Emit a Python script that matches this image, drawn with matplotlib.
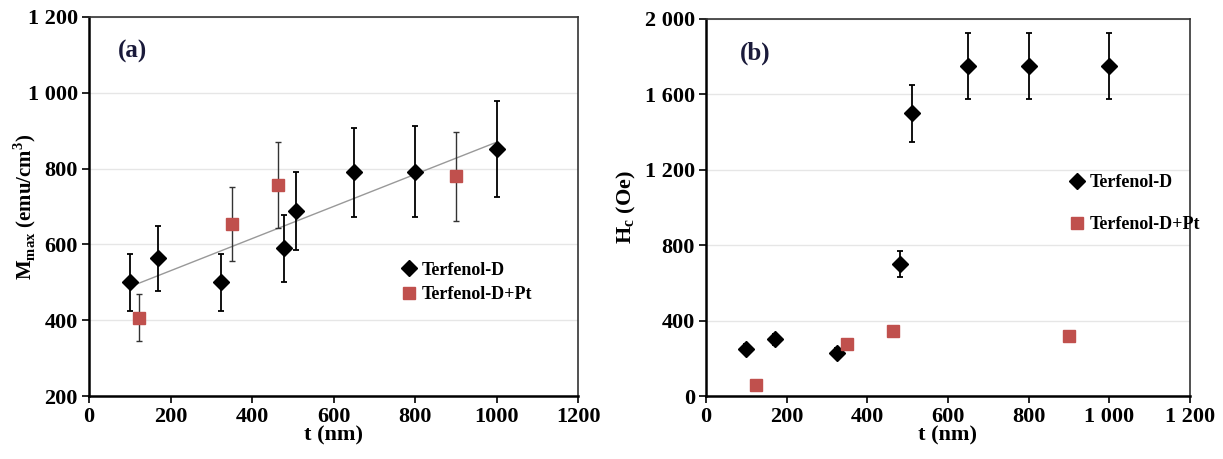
import numpy as np
import matplotlib
matplotlib.use('Agg')
import matplotlib.pyplot as plt
from matplotlib.ticker import FuncFormatter
from matplotlib.lines import Line2D

plt.rcParams['font.family'] = ['Liberation Serif', 'DejaVu Serif']
plt.rcParams['font.weight'] = 'bold'
plt.rcParams['axes.labelweight'] = 'bold'
plt.rcParams['mathtext.fontset'] = 'custom'
plt.rcParams['mathtext.rm'] = 'Liberation Serif:bold'
plt.rcParams['mathtext.bf'] = 'Liberation Serif:bold'

RED = '#C0504D'

# (a) Mmax vs thickness
t_d_a = [100, 170, 325, 478, 507, 650, 800, 1000]
m_d = [500, 563, 500, 590, 687, 790, 792, 852]
m_d_err = [75, 85, 75, 88, 103, 118, 120, 127]

t_pt_a = [123, 350, 463, 900]
m_pt = [407, 653, 757, 780]
m_pt_err = [62, 98, 114, 117]

# (b) Hc vs thickness
t_d_b = [100, 170, 325, 480, 510, 650, 800, 1000]
h_d = [250, 300, 230, 700, 1500, 1750, 1750, 1750]
h_d_err = [25, 28, 22, 70, 150, 175, 175, 175]

t_pt_b = [123, 350, 463, 900]
h_pt = [60, 275, 345, 320]
h_pt_err = [12, 15, 18, 18]


def space_thousands(v, pos):
    v = int(round(v))
    if v >= 1000:
        return f'{v // 1000} {v % 1000:03d}'
    return str(v)


def style_axes(ax):
    ax.grid(axis='y', color='#e6e6e6', linewidth=1.0)
    ax.set_axisbelow(True)
    ax.tick_params(direction='out', length=5, width=1.2, labelsize=16, pad=3)
    for s in ax.spines.values():
        s.set_linewidth(1.2)
        s.set_color('#333333')
    ax.spines['left'].set_color('black')
    ax.spines['bottom'].set_color('black')
    ax.spines['left'].set_linewidth(1.8)
    ax.spines['bottom'].set_linewidth(1.8)


def legend_handles():
    return [Line2D([], [], ls='none', marker='D', color='black', ms=8),
            Line2D([], [], ls='none', marker='s', color=RED, ms=9)]


labels = ['Terfenol-D', 'Terfenol-D+Pt']

fig = plt.figure(figsize=(12.23, 4.59), dpi=100)
ax1 = fig.add_axes([89 / 1223, 63 / 459, 489 / 1223, 379 / 459])
ax2 = fig.add_axes([706 / 1223, 63 / 459, 484 / 1223, 377 / 459])

# panel (a)
ax1.errorbar(t_d_a, m_d, yerr=m_d_err, fmt='D', color='black', ms=8,
             ecolor='black', elinewidth=1.3, capsize=2, capthick=1.3, zorder=3)
ax1.errorbar(t_pt_a, m_pt, yerr=m_pt_err, fmt='s', color=RED, ms=9,
             ecolor='#333333', elinewidth=1.0, capsize=2, capthick=1.0, zorder=3)
k, b = np.polyfit(t_d_a, m_d, 1)
xs = np.array([min(t_d_a), max(t_d_a)])
ax1.plot(xs, k * xs + b, color='#999999', lw=1.0, zorder=2)

ax1.set_xlim(0, 1200)
ax1.set_ylim(200, 1200)
ax1.set_xticks(range(0, 1201, 200))
ax1.set_yticks(range(200, 1201, 200))
ax1.yaxis.set_major_formatter(FuncFormatter(space_thousands))
ax1.set_xlabel('t (nm)', fontsize=16, labelpad=-1)
ax1.set_ylabel(r'M$_{\mathbf{max}}$ (emu/cm$^{\mathbf{3}}$)', fontsize=15)
ax1.yaxis.set_label_coords(-0.105, 0.5)
ax1.text(0.06, 0.91, '(a)', transform=ax1.transAxes, fontsize=18,
         color='#1a1a3a', va='center', ha='left')
ax1.legend(legend_handles(), labels, loc='center left', bbox_to_anchor=(0.6, 0.3),
           frameon=False, fontsize=13, handletextpad=0.1, handlelength=1.2,
           labelspacing=0.4)
style_axes(ax1)

# panel (b)
ax2.errorbar(t_d_b, h_d, yerr=h_d_err, fmt='D', color='black', ms=8,
             ecolor='black', elinewidth=1.3, capsize=2, capthick=1.3, zorder=3)
ax2.errorbar(t_pt_b, h_pt, yerr=h_pt_err, fmt='s', color=RED, ms=9,
             ecolor='#333333', elinewidth=1.0, capsize=2, capthick=1.0, zorder=3)
ax2.set_xlim(0, 1200)
ax2.set_ylim(0, 2000)
ax2.set_xticks(range(0, 1201, 200))
ax2.set_yticks(range(0, 2001, 400))
ax2.xaxis.set_major_formatter(FuncFormatter(space_thousands))
ax2.yaxis.set_major_formatter(FuncFormatter(space_thousands))
ax2.set_xlabel('t (nm)', fontsize=16, labelpad=-1)
ax2.set_ylabel(r'H$_{\mathbf{c}}$ (Oe)', fontsize=16, labelpad=5)
ax2.text(0.07, 0.91, '(b)', transform=ax2.transAxes, fontsize=18,
         color='#1a1a3a', va='center', ha='left')
ax2.legend(legend_handles(), labels, loc='center left', bbox_to_anchor=(0.71, 0.51),
           frameon=False, fontsize=13, handletextpad=0.1, handlelength=1.2,
           labelspacing=1.4)
style_axes(ax2)

fig.savefig('out.png', dpi=100)
